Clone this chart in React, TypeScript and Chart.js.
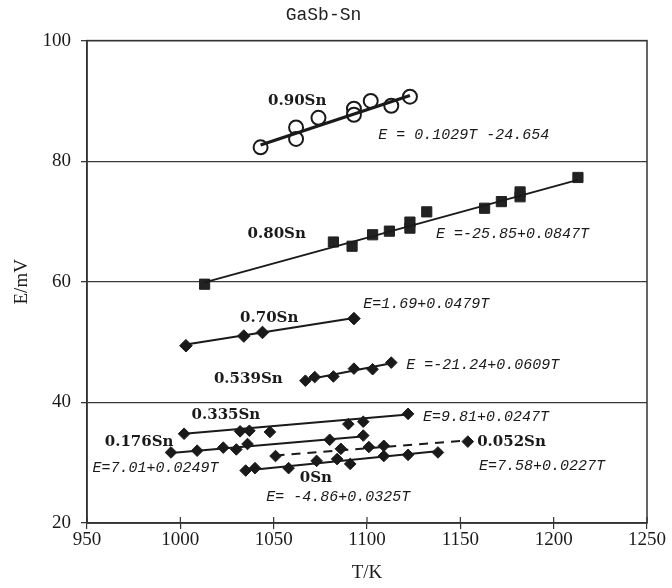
import React, { useEffect, useRef } from 'react';
import { Chart, registerables } from 'chart.js';

Chart.register(...registerables);

// ---- axis ticks ----
const xTickValues = [950, 1000, 1050, 1100, 1150, 1200, 1250];
const yTickValues = [20, 40, 60, 80, 100];

// ---- measured points (T/K, E/mV) ----
const sn090T = [1043, 1062, 1062, 1074, 1093, 1093, 1102, 1113, 1123];
const sn090E = [82.3, 85.6, 83.7, 87.2, 88.7, 87.7, 90.0, 89.2, 90.7];

const sn080T = [1013, 1082, 1092, 1103, 1112, 1123, 1123, 1132, 1163, 1172, 1182, 1182, 1213];
const sn080E = [59.6, 66.6, 65.9, 67.8, 68.4, 69.9, 68.9, 71.6, 72.2, 73.3, 74.1, 74.9, 77.3];

const sn070T = [1003, 1034, 1044, 1093];
const sn070E = [49.4, 51.0, 51.6, 53.9];

const sn0539T = [1067, 1072, 1082, 1093, 1103, 1113];
const sn0539E = [43.6, 44.2, 44.3, 45.6, 45.5, 46.6];

const sn0335T = [1002, 1032, 1037, 1048, 1090, 1098, 1122];
const sn0335E = [34.8, 35.2, 35.3, 35.1, 36.4, 36.8, 38.1];

const sn0176T = [995, 1009, 1023, 1030, 1036, 1080, 1098];
const sn0176E = [31.7, 32.0, 32.5, 32.2, 33.1, 33.8, 34.5];

const sn0052T = [1051, 1086, 1101, 1109, 1154];
const sn0052E = [31.1, 32.3, 32.6, 32.8, 33.5];

const sn000T = [1035, 1040, 1058, 1073, 1084, 1091, 1109, 1122, 1138];
const sn000E = [28.7, 29.1, 29.1, 30.3, 30.6, 29.8, 31.1, 31.3, 31.7];

// ---- regression line end points ----
const fit090T = [1043, 1123];
const fit090E = [82.7, 90.9];
const fit080T = [1013, 1213];
const fit080E = [59.9, 76.9];
const fit070T = [1003, 1093];
const fit070E = [49.6, 54.0];
const fit0539T = [1067, 1113];
const fit0539E = [43.7, 46.5];
const fit0335T = [1002, 1122];
const fit0335E = [34.8, 38.0];
const fit0176T = [995, 1099];
const fit0176E = [31.6, 34.4];
const fit0052T = [1051, 1154];
const fit0052E = [31.2, 33.7];
const fit000T = [1035, 1140];
const fit000E = [28.7, 32.0];

// ---- text annotations (anchored in data coordinates, left aligned) ----
const seriesNames = ['0.90Sn', '0.80Sn', '0.70Sn', '0.539Sn', '0.335Sn', '0.176Sn', '0.052Sn', '0Sn'];
const nameT = [1047, 1036, 1032, 1018, 1006, 959.5, 1159, 1064];
const nameE = [89.9, 67.9, 54.0, 43.9, 37.9, 33.4, 33.4, 27.4];

const equations = [
  'E = 0.1029T -24.654',
  'E =-25.85+0.0847T',
  'E=1.69+0.0479T',
  'E =-21.24+0.0609T',
  'E=9.81+0.0247T',
  'E=7.01+0.0249T',
  'E=7.58+0.0227T',
  'E= -4.86+0.0325T',
];
const eqT = [1106, 1137, 1098, 1121, 1130, 953, 1160, 1046];
const eqE = [84.3, 67.9, 56.3, 46.2, 37.6, 29.1, 29.5, 24.3];

const zip = (xs: number[], ys: number[]) => xs.map((x, i) => ({ x, y: ys[i] }));

const INK = '#1a1a1a';

function pointsSet(T: number[], E: number[], style: string, opts: any = {}) {
  return {
    data: zip(T, E),
    showLine: false,
    pointStyle: style,
    pointRadius: 5.8,
    pointBackgroundColor: INK,
    pointBorderColor: INK,
    pointBorderWidth: 1,
    ...opts,
  };
}

function lineSet(T: number[], E: number[], width: number, dash: number[] = []) {
  return {
    data: zip(T, E),
    showLine: true,
    borderColor: INK,
    borderWidth: width,
    borderDash: dash,
    pointRadius: 0,
    fill: false,
  };
}

const framePlugin = {
  id: 'frame',
  afterDatasetsDraw(chart: any) {
    const { ctx, chartArea, scales } = chart;
    ctx.save();
    ctx.strokeStyle = '#333';
    ctx.lineWidth = 1.5;
    ctx.strokeRect(chartArea.left, chartArea.top, chartArea.right - chartArea.left, chartArea.bottom - chartArea.top);
    ctx.lineWidth = 1.2;
    xTickValues.forEach((v) => {
      const px = scales.x.getPixelForValue(v);
      ctx.beginPath();
      ctx.moveTo(px, chartArea.bottom - 6);
      ctx.lineTo(px, chartArea.bottom);
      ctx.stroke();
    });
    ctx.restore();
  },
};

const textPlugin = {
  id: 'texts',
  afterDatasetsDraw(chart: any) {
    const { ctx, scales } = chart;
    ctx.save();
    ctx.fillStyle = INK;
    ctx.textAlign = 'left';
    ctx.textBaseline = 'middle';
    ctx.font = 'bold 15px "DejaVu Serif"';
    seriesNames.forEach((s, i) => {
      ctx.fillText(s, scales.x.getPixelForValue(nameT[i]), scales.y.getPixelForValue(nameE[i]));
    });
    ctx.font = 'italic 15px "Liberation Mono"';
    equations.forEach((s, i) => {
      ctx.fillText(s, scales.x.getPixelForValue(eqT[i]), scales.y.getPixelForValue(eqE[i]));
    });
    ctx.restore();
  },
};

export default function App() {
  const ref = useRef<HTMLCanvasElement | null>(null);

  useEffect(() => {
    if (!ref.current) return;
    const chart = new Chart(ref.current, {
      type: 'scatter',
      data: {
        datasets: [
          lineSet(fit090T, fit090E, 3.2),
          pointsSet(sn090T, sn090E, 'circle', {
            pointRadius: 7,
            pointBackgroundColor: '#ffffff',
            pointBorderWidth: 2,
          }),
          lineSet(fit080T, fit080E, 2),
          pointsSet(sn080T, sn080E, 'rect', { pointRadius: 7.2, pointBackgroundColor: '#222', pointBorderColor: '#222' }),
          lineSet(fit070T, fit070E, 2.2),
          pointsSet(sn070T, sn070E, 'rectRot', { pointRadius: 6.3 }),
          lineSet(fit0539T, fit0539E, 2),
          pointsSet(sn0539T, sn0539E, 'rectRot'),
          lineSet(fit0335T, fit0335E, 2),
          pointsSet(sn0335T, sn0335E, 'rectRot'),
          lineSet(fit0176T, fit0176E, 2),
          pointsSet(sn0176T, sn0176E, 'rectRot'),
          lineSet(fit0052T, fit0052E, 2, [9, 7]),
          pointsSet(sn0052T, sn0052E, 'rectRot'),
          lineSet(fit000T, fit000E, 2),
          pointsSet(sn000T, sn000E, 'rectRot'),
        ] as any,
      },
      options: {
        responsive: false,
        animation: false,
        events: [],
        layout: { padding: { top: 0, right: 25, bottom: 0, left: 0 } },
        plugins: {
          legend: { display: false },
          tooltip: { enabled: false },
          title: {
            display: true,
            text: 'GaSb-Sn',
            color: '#222',
            font: { family: '"Liberation Mono"', size: 18, weight: 'normal' as any },
            padding: { top: 4, bottom: 15 },
          },
        },
        scales: {
          x: {
            type: 'linear',
            min: 950,
            max: 1250,
            afterBuildTicks: (s: any) => {
              s.ticks = xTickValues.map((v) => ({ value: v }));
            },
            afterFit: (s: any) => {
              s.height = 65;
            },
            ticks: {
              color: '#1a1a1a',
              padding: 0,
              callback: (v: any) => String(v),
              font: { family: '"Liberation Serif"', size: 19 },
            },
            grid: { drawOnChartArea: false, drawTicks: true, tickLength: 6, color: '#333', lineWidth: 1.2 },
            border: { display: true, color: '#333', width: 1.5 },
            title: {
              display: true,
              text: 'T/K',
              color: '#1a1a1a',
              font: { family: '"Liberation Serif"', size: 19 },
              padding: { top: 4, bottom: 4 },
            },
          },
          y: {
            type: 'linear',
            min: 20,
            max: 100,
            afterBuildTicks: (s: any) => {
              s.ticks = yTickValues.map((v) => ({ value: v }));
            },
            afterFit: (s: any) => {
              s.width = 87;
            },
            ticks: {
              color: '#1a1a1a',
              padding: 10,
              callback: (v: any) => String(v),
              font: { family: '"Liberation Serif"', size: 19 },
            },
            grid: { drawTicks: true, tickLength: 6, color: '#3a3a3a', lineWidth: 1.3 },
            border: { display: true, color: '#333', width: 1.5 },
            title: {
              display: true,
              text: 'E/mV',
              color: '#1a1a1a',
              font: { family: '"Liberation Serif"', size: 19 },
              padding: { top: 11, bottom: 4 },
            },
          },
        },
      },
      plugins: [framePlugin, textPlugin],
    });
    return () => chart.destroy();
  }, []);

  return (
    <div style={{ position: 'absolute', left: 0, top: 0, width: 672, height: 588, background: '#fff' }}>
      <canvas ref={ref} width={672} height={588} />
    </div>
  );
}
